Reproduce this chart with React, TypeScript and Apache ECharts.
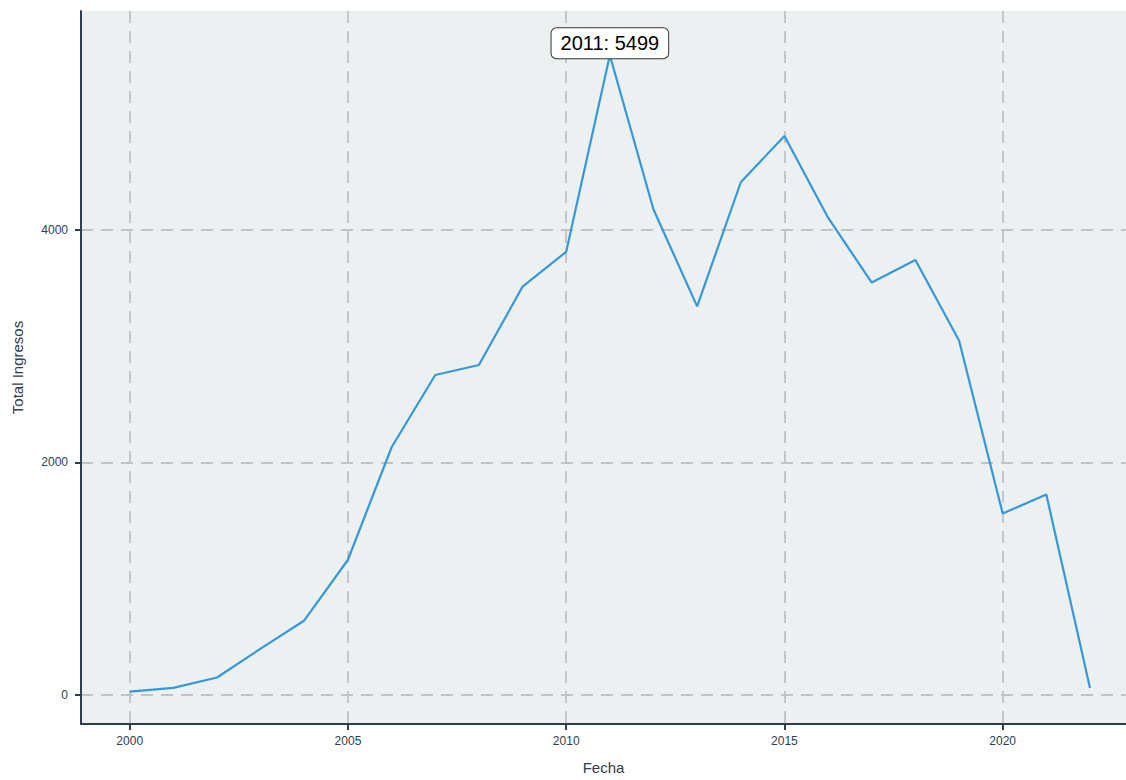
import React, { useEffect, useRef } from "react";
import * as echarts from "echarts";

const years = [2000, 2001, 2002, 2003, 2004, 2005, 2006, 2007, 2008, 2009, 2010, 2011, 2012, 2013, 2014, 2015, 2016, 2017, 2018, 2019, 2020, 2021, 2022];
const ingresos = [28, 60, 150, 398, 640, 1162, 2129, 2750, 2836, 3510, 3809, 5499, 4173, 3340, 4407, 4805, 4102, 3545, 3738, 3046, 1560, 1722, 60];
const xTicks = [2000, 2005, 2010, 2015, 2020];
const yTicks = [0, 2000, 4000];
const peakYear = 2011;
const peakValue = 5499;

const FONT = "'Liberation Sans', Arial, sans-serif";
const AXIS_COLOR = "#2c3e50";
const GRID_COLOR = "#bdc3c7";

export default function App() {
  const ref = useRef<HTMLDivElement>(null);
  useEffect(() => {
    if (!ref.current) return;
    const chart = echarts.init(ref.current, null, { renderer: "svg" });
    const data = years.map((y, i) => [y, ingresos[i]]);
    chart.setOption({
      animation: false,
      grid: {
        left: 81,
        top: 11,
        right: 0,
        bottom: 52,
        show: true,
        backgroundColor: "#ecf0f1",
        borderWidth: 0,
      },
      xAxis: {
        type: "value",
        min: 1998.884,
        max: 2022.825,
        name: "Fecha",
        nameLocation: "middle",
        nameGap: 36,
        nameTextStyle: { fontFamily: FONT, fontSize: 15, color: AXIS_COLOR },
        axisLine: { show: true, onZero: false, lineStyle: { color: AXIS_COLOR, width: 2 } },
        axisTick: { show: true, length: 6, customValues: xTicks, lineStyle: { color: AXIS_COLOR, width: 2 } },
        axisLabel: { customValues: xTicks, margin: 11, fontFamily: FONT, fontSize: 12, color: AXIS_COLOR, formatter: (v: number) => String(v) },
        splitLine: { show: true, lineStyle: { color: GRID_COLOR, type: [12, 8], width: 1.8 } },
      },
      yAxis: {
        type: "value",
        min: -250,
        max: 5879,
        name: "Total Ingresos",
        nameLocation: "middle",
        nameGap: 56,
        nameTextStyle: { fontFamily: FONT, fontSize: 15, color: AXIS_COLOR },
        axisLine: { show: true, onZero: false, lineStyle: { color: AXIS_COLOR, width: 2 } },
        axisTick: { show: true, length: 6, customValues: yTicks, lineStyle: { color: AXIS_COLOR, width: 2 } },
        axisLabel: { customValues: yTicks, margin: 13, fontFamily: FONT, fontSize: 12, color: AXIS_COLOR, formatter: (v: number) => String(v) },
        splitLine: { show: true, lineStyle: { color: GRID_COLOR, type: [12, 8], width: 1.8 } },
      },
      series: [
        {
          type: "line",
          data,
          showSymbol: false,
          symbol: "none",
          lineStyle: { color: "#3498db", width: 2.2 },
          markPoint: {
            symbol: "rect",
            symbolSize: 1,
            itemStyle: { color: "rgba(0,0,0,0)" },
            data: [{ coord: [peakYear, peakValue], value: peakValue }],
            label: {
              show: true,
              position: "inside",
              offset: [0, -12],
              formatter: () => `${peakYear}: ${peakValue}`,
              fontFamily: FONT,
              fontSize: 20,
              color: "#000",
              backgroundColor: "#fff",
              borderColor: "#333",
              borderWidth: 1,
              borderRadius: 5,
              padding: [4, 9],
              lineHeight: 22,
            },
          },
        },
      ],
    });
    return () => chart.dispose();
  }, []);
  return (
    <div
      ref={ref}
      style={{ position: "fixed", left: 0, top: 0, width: 1126, height: 780, background: "#fff" }}
    />
  );
}
